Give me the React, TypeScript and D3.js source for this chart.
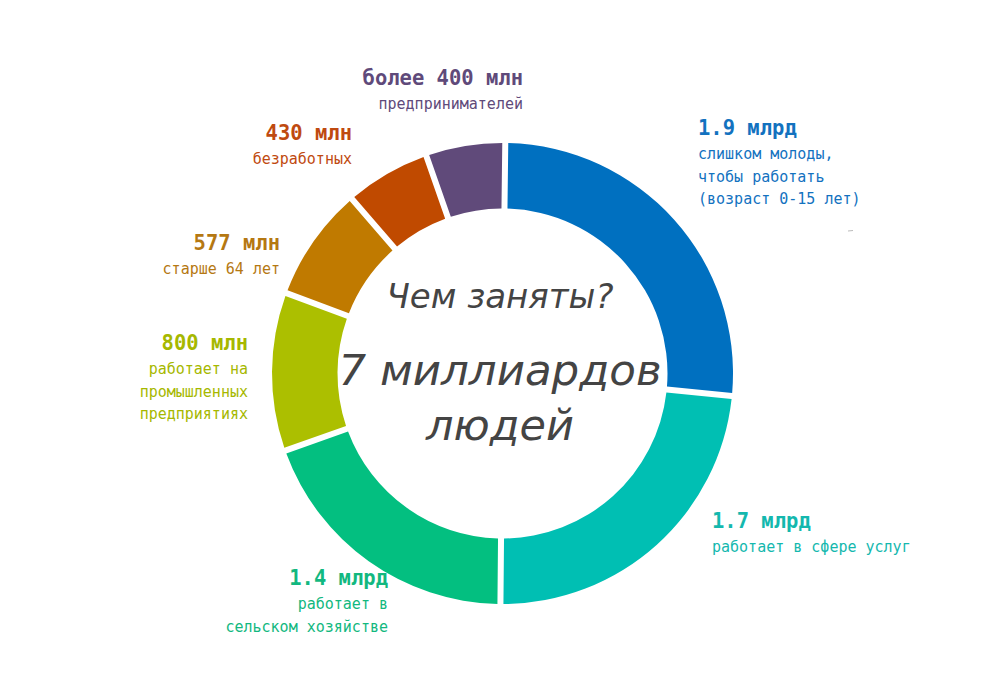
import { useMemo } from 'react'
import * as d3 from 'd3'

const W = 1000
const H = 692
const CX = 502.5
const CY = 373.5
const R_OUT = 230.5
const R_IN = 165

// billions of people, clockwise from 12 o'clock
const values = [1.9, 1.7, 1.4, 0.8, 0.577, 0.43, 0.4]
const headlines = ['1.9 млрд', '1.7 млрд', '1.4 млрд', '800 млн', '577 млн', '430 млн', 'более 400 млн']
const descriptions = [
  ['слишком молоды,', 'чтобы работать', '(возраст 0-15 лет)'],
  ['работает в сфере услуг'],
  ['работает в', 'сельском хозяйстве'],
  ['работает на', 'промышленных', 'предприятиях'],
  ['старше 64 лет'],
  ['безработных'],
  ['предпринимателей'],
]
const sliceColors = ['#0070c0', '#00bfb3', '#03bf80', '#acbf00', '#c07a00', '#c04a00', '#604a7a']
const textColors = ['#1372bf', '#14b8ae', '#12b880', '#a6b800', '#b57812', '#bf4a10', '#5f4a7a']

// label anchors (x, baseline of headline, text-anchor)
const labelPos: { x: number; y: number; anchor: 'start' | 'end' }[] = [
  { x: 698, y: 135, anchor: 'start' },
  { x: 712, y: 528, anchor: 'start' },
  { x: 388, y: 585, anchor: 'end' },
  { x: 248, y: 350, anchor: 'end' },
  { x: 280, y: 250, anchor: 'end' },
  { x: 352, y: 140, anchor: 'end' },
  { x: 523, y: 85, anchor: 'end' },
]

const MONO = '"DejaVu Sans Mono", monospace'
const SANS = '"DejaVu Sans", Verdana, sans-serif'

export default function App() {
  const arcs = useMemo(() => {
    const pie = d3.pie<number>().sort(null).value((d) => d).startAngle(0.012).endAngle(0.012 + Math.PI * 2)
    return pie(values)
  }, [])
  const arc = d3.arc<d3.PieArcDatum<number>>()
    .innerRadius(R_IN)
    .outerRadius(R_OUT)
    .padRadius(R_OUT)
    .padAngle(6 / R_OUT)

  return (
    <div style={{ position: 'absolute', left: 0, top: 0 }}>
      <svg width={W} height={H} style={{ display: 'block', background: '#fff' }}>
        <g transform={`translate(${CX},${CY})`}>
          {arcs.map((a, i) => (
            <path key={i} d={arc(a) ?? ''} fill={sliceColors[i]} />
          ))}
        </g>
        <g fill="#444" fontFamily={SANS} fontStyle="italic" textAnchor="middle">
          <text x={500} y={308} fontSize={34}>Чем заняты?</text>
          <text x={500} y={385} fontSize={43.5}>7 миллиардов</text>
          <text x={500} y={440} fontSize={43}>людей</text>
        </g>
        {headlines.map((h, i) => {
          const p = labelPos[i]
          return (
            <g key={i} fill={textColors[i]} fontFamily={MONO} textAnchor={p.anchor}>
              <text x={p.x} y={p.y} fontSize={20.5} fontWeight="bold">{h}</text>
              {descriptions[i].map((line, j) => (
                <text key={j} x={p.x} y={p.y + 24 + j * 22.5} fontSize={15}>{line}</text>
              ))}
            </g>
          )
        })}
        <line x1={848} x2={853} y1={231} y2={230.5} stroke="#bbb" strokeWidth={1} />
      </svg>
    </div>
  )
}
